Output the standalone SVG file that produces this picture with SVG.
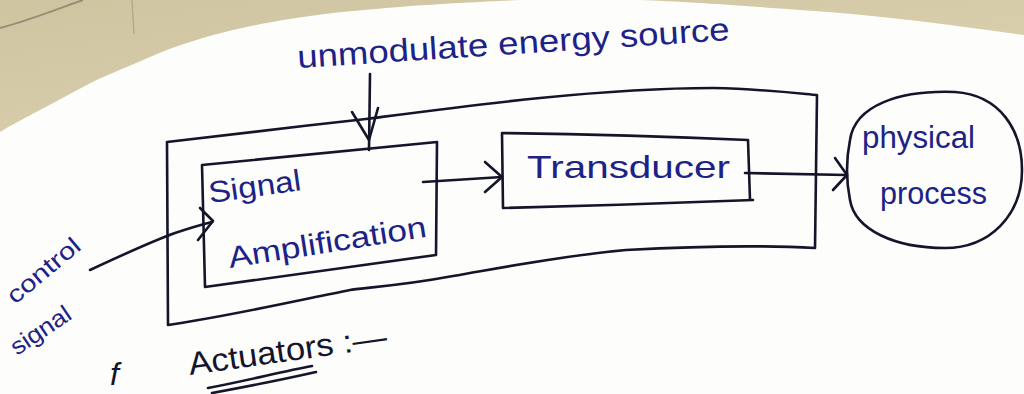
<svg xmlns="http://www.w3.org/2000/svg" width="1024" height="394" viewBox="0 0 1024 394">
  <defs>
    <style>
      .ink { fill: none; stroke: #14142a; stroke-width: 2.6; stroke-linecap: round; stroke-linejoin: round; }
      .blue { fill: #1c2286; font-family: "Liberation Sans", "DejaVu Sans", sans-serif; }
      .black { fill: #14142a; font-family: "Liberation Sans", "DejaVu Sans", sans-serif; }
    </style>
    <linearGradient id="paperShade" x1="0" y1="0" x2="1" y2="1">
      <stop offset="0" stop-color="#cfc4a0"/>
      <stop offset="1" stop-color="#ddd4b4"/>
    </linearGradient>
  </defs>

  <!-- background -->
  <rect x="0" y="0" width="1024" height="394" fill="#fdfdfc"/>
  <path d="M0,0 L1024,0 L1024,35 C950,25 880,15 800,10 C720,4 660,0 630,0 L520,0 C450,3 400,6 333,13 C290,18 260,24 233,30 C200,38 175,46 150,57 C125,68 105,75 83,87 C50,105 20,120 0,132 Z" fill="url(#paperShade)"/>
  <path d="M0,28 C30,20 60,8 83,0" fill="none" stroke="#6d6a5c" stroke-width="2" opacity="0.6"/>
  <path d="M132,0 L134,34" fill="none" stroke="#a8987a" stroke-width="1.5" opacity="0.6"/>

  <!-- actuator boundary -->
  <g id="actuator-boundary">
    <path class="ink" d="M167,142 C240,134 300,126 366,119 C420,112 480,104 540,98 C600,92 660,88 713,88 C760,89 795,93 817,95 L815,248 C760,245 700,246 626,250 C560,256 500,268 453,276 C400,286 360,288 350,290 C300,300 230,316 168,325 L167,142"/>
  </g>

  <!-- signal amplification -->
  <g id="signal-amplification">
    <path class="ink" d="M202,165 L437,142 L436,255 L205,287 Z"/>
    <text class="blue" x="210" y="203" font-size="30" textLength="93" lengthAdjust="spacingAndGlyphs" transform="rotate(-8 210 203)">Signal</text>
    <text class="blue" x="230" y="268" font-size="30" textLength="200" lengthAdjust="spacingAndGlyphs" transform="rotate(-9 230 268)">Amplification</text>
  </g>

  <!-- transducer -->
  <g id="transducer">
    <path class="ink" d="M502,133 C580,134 680,137 748,140 L750,200 M753,200 C680,203 580,206 503,208 L502,133"/>
    <text class="blue" x="527" y="178" font-size="32" textLength="203" lengthAdjust="spacingAndGlyphs">Transducer</text>
  </g>

  <!-- physical process -->
  <g id="physical-process">
    <path class="ink" d="M850,140 C855,105 900,90 955,92 C1000,95 1022,130 1022,170 C1022,215 990,248 945,248 C895,248 855,230 850,200 C846,180 846,160 850,140 Z"/>
    <text class="blue" x="862" y="148" font-size="31" textLength="113" lengthAdjust="spacingAndGlyphs">physical</text>
    <text class="blue" x="880" y="204" font-size="31" textLength="107" lengthAdjust="spacingAndGlyphs">process</text>
  </g>

  <!-- connectors -->
  <g id="connectors">
    <!-- energy source into amplifier -->
    <path class="ink" d="M370,74 L369,150"/>
    <path class="ink" d="M352,112 L369,140 L378,108"/>
    <!-- control signal into amplifier -->
    <path class="ink" d="M90,270 C120,256 150,242 175,233 C190,228 200,225 212,222"/>
    <path class="ink" d="M200,208 L213,221 L198,240"/>
    <!-- amplifier to transducer -->
    <path class="ink" d="M423,182 L502,177"/>
    <path class="ink" d="M485,162 L502,177 L485,192"/>
    <!-- transducer to physical process -->
    <path class="ink" d="M745,173 L847,175"/>
    <path class="ink" d="M835,158 L847,175 L833,190"/>
  </g>

  <!-- labels -->
  <g id="labels">
    <text class="blue" x="298" y="68" font-size="32" textLength="433" lengthAdjust="spacingAndGlyphs" transform="rotate(-3.7 298 68)">unmodulate energy source</text>
    <text class="blue" x="15" y="305" font-size="24" textLength="88" lengthAdjust="spacingAndGlyphs" transform="rotate(-40 15 305)">control</text>
    <text class="blue" x="17" y="356" font-size="24" textLength="68" lengthAdjust="spacingAndGlyphs" transform="rotate(-34 17 356)">signal</text>
    <text class="black" x="190" y="375" font-size="32" textLength="200" lengthAdjust="spacingAndGlyphs" transform="rotate(-8 190 375)">Actuators :—</text>
    <path class="ink" d="M208,388 C250,380 280,372 312,366"/>
    <path class="ink" d="M212,393 C250,386 285,379 316,372"/>
    <text class="black" x="110" y="385" font-size="32" font-style="italic">f</text>
  </g>
</svg>
